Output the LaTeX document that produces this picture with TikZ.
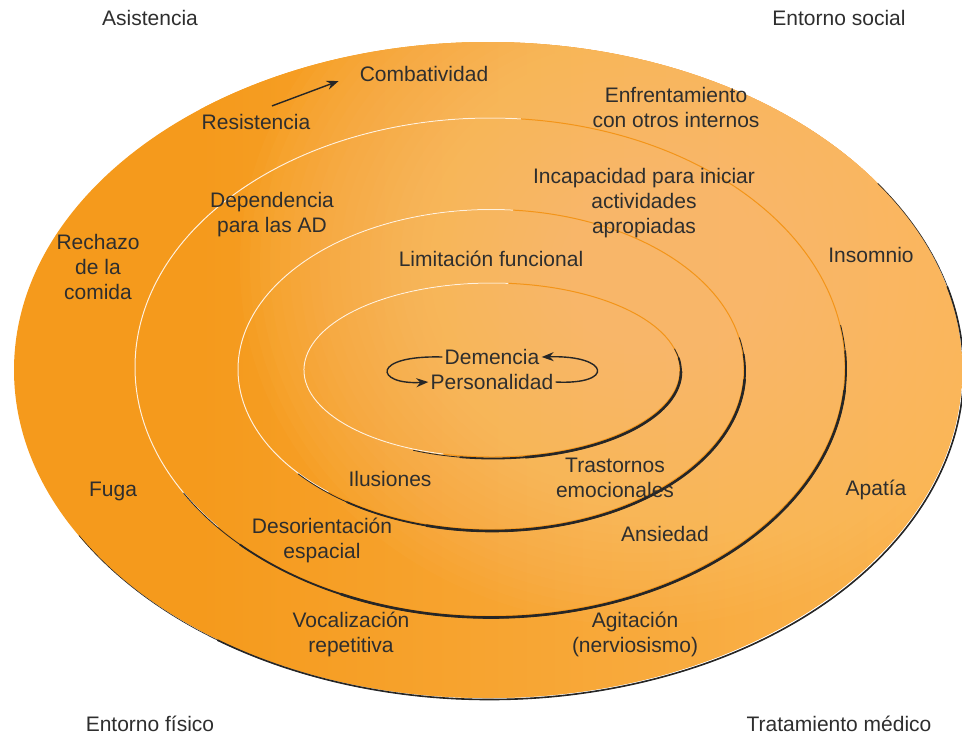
\documentclass[tikz,border=0pt]{standalone}
\usepackage{fontspec}
\setmainfont{Liberation Sans}
\usepackage{tikz}
\usetikzlibrary{arrows.meta}
\definecolor{ringdark}{HTML}{F59A1C}
\definecolor{ringlight}{HTML}{FEC97C}
\definecolor{ringedge}{HTML}{F39418}
\definecolor{txtgray}{HTML}{2E2E2E}

\tikzset{
  lbl/.style={font=\fontsize{10.5}{12.5}\selectfont, text=txtgray, align=center, inner sep=1pt},
  shadowline/.style={draw=black!85, line cap=round},
  pointer/.style={-{Stealth[length=6pt,width=4.5pt]}, line width=0.7pt, black!85},
}

\begin{document}
\begin{tikzpicture}[x=0.5pt,y=-0.5pt]
\useasboundingbox (0,0) rectangle (962,736);

% background of the rings
\begin{scope}
\clip (488,370) ellipse [x radius=474, y radius=328];
\fill[ringdark] (0,0) rectangle (962,736);
\shade[left color=ringdark, right color=ringdark!40!ringlight] (200,0) rectangle (1000,736);
\foreach \k in {1,...,40}{
  \fill[ringlight, opacity=0.05] (640,265) ellipse [x radius=10*\k, y radius=9*\k];
}
\end{scope}

% outer rim
\draw[shadowline, line width=0.3pt, shift={(489.5,371.5)}, xscale=474, yscale=328]
  (-35:1) arc[start angle=-35, end angle=150, radius=1];
\draw[shadowline, line width=0.8pt, shift={(489.5,371.5)}, xscale=474, yscale=328]
  (-15:1) arc[start angle=-15, end angle=125, radius=1];

% inner rings
\foreach \cx/\cy/\rx/\ry/\a/\b in {490/367/355/249/-10/150, 491/369.5/253/160/-12/140, 492/370/188/87/-15/115}{
  \draw[ringedge, line width=0.5pt] (\cx,\cy) ellipse [x radius=\rx, y radius=\ry];
  \draw[white!75!ringlight, line width=0.5pt, shift={(\cx,\cy)}, xscale=\rx, yscale=\ry]
    (\b-10:1) arc[start angle=\b-10, end angle=275, radius=1];
  \draw[shadowline, line width=0.4pt, shift={(\cx+1,\cy+1.5)}, xscale=\rx, yscale=\ry]
    (\a:1) arc[start angle=\a, end angle=\b, radius=1];
  \draw[shadowline, line width=0.9pt, shift={(\cx+1,\cy+1.5)}, xscale=\rx, yscale=\ry]
    (\a+6:1) arc[start angle=\a+6, end angle=\b-15, radius=1];
  \draw[shadowline, line width=1.3pt, shift={(\cx+1,\cy+1.5)}, xscale=\rx, yscale=\ry]
    (\a+15:1) arc[start angle=\a+15, end angle=\b-35, radius=1];
}

% corner labels
\node[lbl] (asis) at (150,18) {Asistencia};
\node[lbl] (social) at (839,18) {Entorno social};
\node[lbl] (fisico) at (150,724) {Entorno físico};
\node[lbl] (medico) at (839,724) {Tratamiento médico};

% outer band
\node[lbl] (comb) at (424,74) {Combatividad};
\node[lbl] (res) at (256,122) {Resistencia};
\node[lbl] (enfr) at (676,107) {Enfrentamiento\\con otros internos};
\node[lbl] (rech) at (98,267) {Rechazo\\de la\\comida};
\node[lbl] (insom) at (871,255) {Insomnio};
\node[lbl] (fuga) at (113,491) {Fuga};
\node[lbl] (apat) at (876,490) {Apatía};
\node[lbl] (vocal) at (351,634) {Vocalización\\repetitiva};
\node[lbl] (agit) at (635,634) {Agitación\\(nerviosismo)};

% second band
\node[lbl] (depen) at (272,215) {Dependencia\\para las AD};
\node[lbl] (incap) at (644,203) {Incapacidad para iniciar\\actividades\\apropiadas};
\node[lbl] (desor) at (322,540) {Desorientación\\espacial};
\node[lbl] (ansie) at (665,534) {Ansiedad};

% third band
\node[lbl] (limit) at (491,259) {Limitación funcional};
\node[lbl] (ilus) at (390,479) {Ilusiones};
\node[lbl] (trast) at (615,478) {Trastornos\\emocionales};

% core
\node[lbl] (dem) at (492,357) {Demencia};
\node[lbl] (pers) at (492,382) {Personalidad};

\draw[pointer, shorten <=8.5pt, shorten >=10pt] (res.north) -- (comb.west);
\draw[pointer] (dem.west) .. controls (370,355) and (375,385) .. (pers.west);
\draw[pointer] (pers.east) .. controls (615,385) and (610,355) .. (dem.east);
\end{tikzpicture}
\end{document}
